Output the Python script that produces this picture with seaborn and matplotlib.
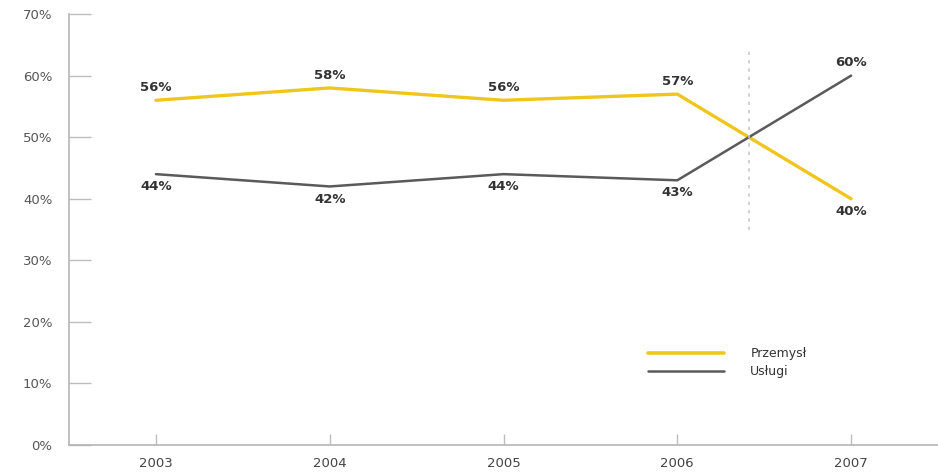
import matplotlib
matplotlib.use("Agg")
import matplotlib.pyplot as plt
import seaborn as sns
import pandas as pd

years = ["2003", "2004", "2005", "2006", "2007"]
przemysl = [56, 58, 56, 57, 40]
uslugi = [44, 42, 44, 43, 60]
series_names = ["Przemysł", "Usługi"]
y_ticks = [0, 10, 20, 30, 40, 50, 60, 70]

sns.set_theme(style="white")
plt.rcParams["font.family"] = ["DejaVu Sans"]

pos = list(range(len(years)))
df = pd.DataFrame({
    "x": pos * 2,
    "value": przemysl + uslugi,
    "series": [series_names[0]] * len(years) + [series_names[1]] * len(years),
})

fig = plt.figure(figsize=(9.38, 4.73), dpi=100)
ax = fig.add_axes([0.0736, 0.0592, 0.9264, 0.911])

palette = {series_names[0]: "#EFC61C", series_names[1]: "#5A5A5A"}
sns.lineplot(data=df, x="x", y="value", hue="series", palette=palette, ax=ax,
             legend=False)
for line, lw in zip(ax.lines, [2.4, 1.8]):
    line.set_linewidth(lw)

ax.set_xlim(-0.5, 4.5)
ax.set_ylim(0, 70)
ax.set_xticks(pos)
ax.set_xticklabels(years)
ax.set_yticks(y_ticks)
ax.set_yticklabels([f"{v}%" for v in y_ticks])
ax.set_xlabel("")
ax.set_ylabel("")

for s in ["top", "right"]:
    ax.spines[s].set_visible(False)
for s in ["left", "bottom"]:
    ax.spines[s].set_color("#b5b5b5")
    ax.spines[s].set_linewidth(1.2)

ax.tick_params(axis="y", direction="in", length=16, width=1.0, color="#bdbdbd",
               pad=12, labelsize=9.5, labelcolor="#555555", left=True)
ax.tick_params(axis="x", direction="in", length=8, width=1.0, color="#bdbdbd",
               pad=9, labelsize=9.5, labelcolor="#444444", bottom=True)

# crossing marker line
ax.plot([3.41, 3.41], [35, 64], linestyle=(0, (2, 3)), color="#c8c8d0", lw=1.2)

txt = dict(ha="center", fontsize=9.5, color="#333333", fontweight="semibold")
for i, (p, u) in enumerate(zip(przemysl, uslugi)):
    if p > u:
        ax.text(i, p + 1.0, f"{p}%", va="bottom", **txt)
        ax.text(i, u - 1.0, f"{u}%", va="top", **txt)
    else:
        ax.text(i, u + 1.0, f"{u}%", va="bottom", **txt)
        ax.text(i, p - 1.0, f"{p}%", va="top", **txt)

# legend
lx0, lx1, tx = 2.83, 3.27, 3.42
for j, name in enumerate(series_names):
    yy = 14.9 - j * 2.9
    ax.plot([lx0, lx1], [yy, yy], color=palette[name], lw=[2.6, 1.8][j])
    ax.text(tx, yy, name, va="center", ha="left", fontsize=9, color="#333333")

fig.savefig("out.png", dpi=100)
